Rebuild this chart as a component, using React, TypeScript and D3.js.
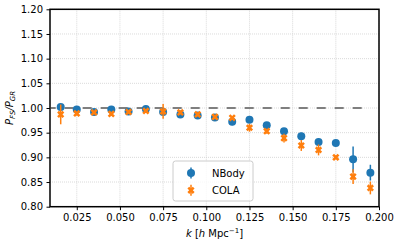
import * as d3 from "d3";
import { useRef, useEffect } from "react";

// wavenumber bins (h/Mpc)
const kValues = [0.0157, 0.025, 0.035, 0.045, 0.055, 0.065, 0.075, 0.085, 0.095, 0.105,
  0.115, 0.125, 0.135, 0.145, 0.155, 0.165, 0.175, 0.185, 0.195];

// P_FS / P_GR for each simulation, with 1-sigma errors
const nbodyRatio = [1.002, 0.997, 0.992, 0.997, 0.993, 0.998, 0.992, 0.987, 0.985, 0.981,
  0.972, 0.976, 0.965, 0.953, 0.943, 0.931, 0.929, 0.896, 0.869];
const nbodyErr = [0.005, 0.003, 0.003, 0.003, 0.003, 0.003, 0.004, 0.004, 0.004, 0.004,
  0.007, 0.004, 0.004, 0.005, 0.007, 0.007, 0.005, 0.026, 0.016];
const colaRatio = [0.987, 0.989, 0.991, 0.988, 0.992, 0.994, 0.993, 0.991, 0.987, 0.982,
  0.98, 0.96, 0.953, 0.939, 0.924, 0.915, 0.9, 0.861, 0.838];
const colaErr = [0.02, 0.004, 0.003, 0.004, 0.003, 0.004, 0.015, 0.004, 0.004, 0.004,
  0.004, 0.008, 0.005, 0.009, 0.011, 0.011, 0.004, 0.015, 0.013];

const seriesNames = ["NBody", "COLA"];
const xTicks = [0.025, 0.05, 0.075, 0.1, 0.125, 0.15, 0.175, 0.2];
const yTicks = [0.8, 0.85, 0.9, 0.95, 1.0, 1.05, 1.1, 1.15, 1.2];

const width = 399;
const height = 247;
const marginLeft = 50;
const marginRight = 20;
const marginTop = 9.3;
const marginBottom = 40.3;

const blue = "#1f77b4";
const orange = "#ff7f0e";
const font = "DejaVu Sans";

// matplotlib's filled "X" marker outline
const xMarkerVerts = [[-1, -2], [0, -1], [1, -2], [2, -1], [1, 0], [2, 1],
  [1, 2], [0, 1], [-1, 2], [-2, 1], [-1, 0], [-2, -1]];
const xMarker = (s: number) =>
  "M" + xMarkerVerts.map(([a, b]) => `${a * s},${b * s}`).join("L") + "Z";

const App = () => {
  const ref = useRef<SVGSVGElement>(null);

  useEffect(() => {
    if (!ref.current) return;
    const svg = d3.select(ref.current);
    svg.selectAll("*").remove();

    const x = d3.scaleLinear().domain([0.0095, 0.2]).range([marginLeft, width - marginRight]);
    const y = d3.scaleLinear().domain([0.8, 1.2]).range([height - marginBottom, marginTop]);

    // grid
    const grid = svg.append("g");
    grid.selectAll("line.gx").data(xTicks).enter().append("line")
      .attr("x1", (d) => x(d)).attr("x2", (d) => x(d))
      .attr("y1", marginTop).attr("y2", height - marginBottom)
      .attr("stroke", "#d0d0d0").attr("stroke-width", 0.8).attr("stroke-dasharray", "1,1");
    grid.selectAll("line.gy").data(yTicks).enter().append("line")
      .attr("y1", (d) => y(d)).attr("y2", (d) => y(d))
      .attr("x1", marginLeft).attr("x2", width - marginRight)
      .attr("stroke", "#d0d0d0").attr("stroke-width", 0.8).attr("stroke-dasharray", "1,1");

    // reference line at 1 (drawn right to left so the dash pattern starts at the right end)
    svg.append("line")
      .attr("x1", x(0.19)).attr("x2", x(0.01))
      .attr("y1", y(1)).attr("y2", y(1))
      .attr("stroke", "#7f7f7f").attr("stroke-width", 2).attr("stroke-dasharray", "9,9");

    const series = [
      { vals: nbodyRatio, errs: nbodyErr, color: blue, marker: "o" },
      { vals: colaRatio, errs: colaErr, color: orange, marker: "x" },
    ];

    series.forEach((s) => {
      const g = svg.append("g");
      g.selectAll("line").data(kValues).enter().append("line")
        .attr("x1", (d) => x(d)).attr("x2", (d) => x(d))
        .attr("y1", (d, i) => y(s.vals[i] - s.errs[i]))
        .attr("y2", (d, i) => y(s.vals[i] + s.errs[i]))
        .attr("stroke", s.color).attr("stroke-width", 1.5);
      if (s.marker === "o") {
        g.selectAll("circle").data(kValues).enter().append("circle")
          .attr("cx", (d) => x(d)).attr("cy", (d, i) => y(s.vals[i]))
          .attr("r", 4).attr("fill", s.color);
      } else {
        g.selectAll("path").data(kValues).enter().append("path")
          .attr("d", xMarker(1.8))
          .attr("transform", (d, i) => `translate(${x(d)},${y(s.vals[i])})`)
          .attr("fill", s.color);
      }
    });

    // axes
    const xAxis = svg.append("g")
      .attr("transform", `translate(0,${height - marginBottom})`)
      .call(d3.axisBottom(x).tickValues(xTicks).tickFormat(d3.format(".3f")).tickSize(3.5).tickPadding(3.5));
    const yAxis = svg.append("g")
      .attr("transform", `translate(${marginLeft},0)`)
      .call(d3.axisLeft(y).tickValues(yTicks).tickFormat(d3.format(".2f")).tickSize(3.5).tickPadding(3.5));
    [xAxis, yAxis].forEach((a) => {
      a.select(".domain").remove();
      a.selectAll("text").attr("font-family", font).attr("font-size", 10).attr("fill", "#000");
      a.selectAll("line").attr("stroke", "#000").attr("stroke-width", 1);
    });

    // frame
    svg.append("rect")
      .attr("x", marginLeft).attr("y", marginTop)
      .attr("width", width - marginLeft - marginRight)
      .attr("height", height - marginTop - marginBottom)
      .attr("fill", "none").attr("stroke", "#000").attr("stroke-width", 1.5);

    // x label
    const xl = svg.append("text")
      .attr("x", (marginLeft + width - marginRight) / 2).attr("y", 237)
      .attr("text-anchor", "middle").attr("font-family", font).attr("font-size", 10);
    xl.append("tspan").attr("font-style", "italic").text("k");
    xl.append("tspan").text(" [");
    xl.append("tspan").attr("font-style", "italic").text("h");
    xl.append("tspan").text(" Mpc");
    xl.append("tspan").attr("font-size", 7).attr("dy", -4).text("\u22121");
    xl.append("tspan").attr("dy", 4).text("]");

    // y label
    const yl = svg.append("text")
      .attr("transform", `translate(13,${(marginTop + height - marginBottom) / 2}) rotate(-90)`)
      .attr("text-anchor", "middle").attr("font-family", font).attr("font-size", 10)
      .attr("font-style", "italic");
    yl.append("tspan").text("P");
    yl.append("tspan").attr("font-size", 7).attr("dy", 2).text("FS");
    yl.append("tspan").attr("dy", -2).text("/P");
    yl.append("tspan").attr("font-size", 7).attr("dy", 2).text("GR");

    // legend
    const lg = svg.append("g");
    lg.append("rect")
      .attr("x", 173).attr("y", 161).attr("width", 80).attr("height", 40).attr("rx", 2.5)
      .attr("fill", "#fff").attr("fill-opacity", 0.8).attr("stroke", "#cccccc").attr("stroke-width", 1);
    series.forEach((s, i) => {
      const cy = 173 + i * 17.3;
      lg.append("line").attr("x1", 191).attr("x2", 191).attr("y1", cy - 5.5).attr("y2", cy + 5.5)
        .attr("stroke", s.color).attr("stroke-width", 1.5);
      if (s.marker === "o") {
        lg.append("circle").attr("cx", 191).attr("cy", cy).attr("r", 4).attr("fill", s.color);
      } else {
        lg.append("path").attr("d", xMarker(1.8)).attr("transform", `translate(191,${cy})`).attr("fill", s.color);
      }
      lg.append("text").attr("x", 212).attr("y", cy + 3.8)
        .attr("font-family", font).attr("font-size", 10).text(seriesNames[i]);
    });
  }, []);

  return (
    <svg ref={ref} width={width} height={height}
      style={{ position: "absolute", left: 0, top: 0, background: "#fff" }} />
  );
};

export default App;
